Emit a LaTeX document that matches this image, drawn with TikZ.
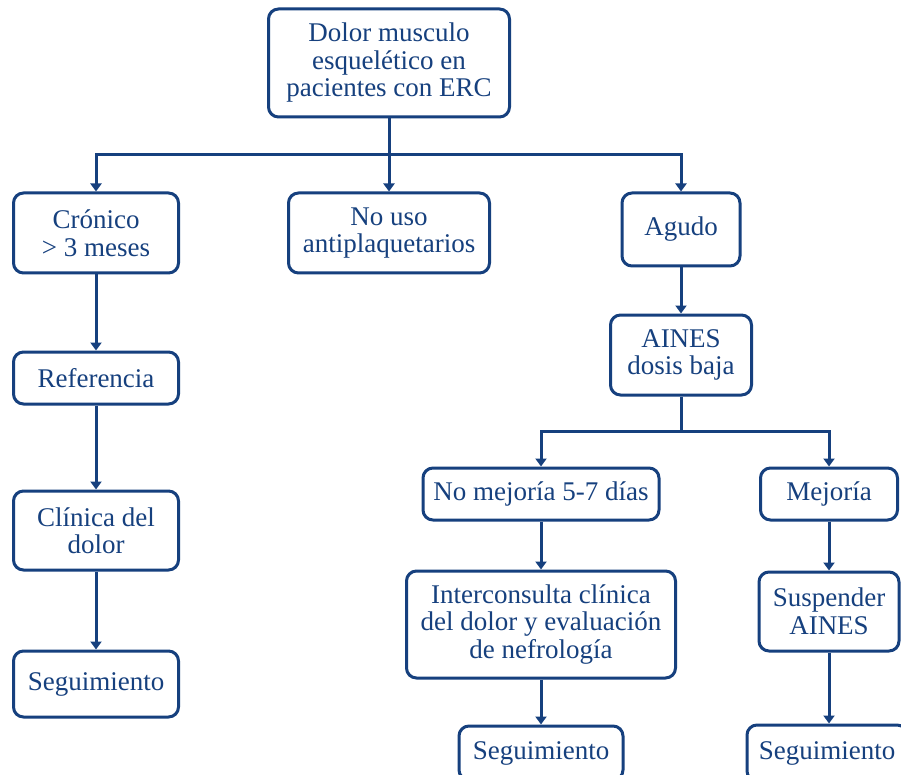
\documentclass[tikz,border=0pt]{standalone}
\usepackage{fontspec}
\setmainfont{Liberation Serif}
\usetikzlibrary{arrows.meta,calc}
\definecolor{navy}{HTML}{16407E}
\begin{document}
\begin{tikzpicture}[x=1pt,y=-1pt,
  box/.style={draw=navy, line width=3pt, rounded corners=10pt, text=navy,
    font=\fontsize{27}{27.5}\selectfont, align=center, inner sep=0pt},
  conn/.style={draw=navy, line width=3pt},
  arr/.style={conn, -{Triangle[length=8pt,width=11pt]}}]
\useasboundingbox (0,0) rectangle (901,775);
\clip (0,0) rectangle (901,775);
\fill[white] (0,0) rectangle (901,775);
% nodes
\node[box, minimum width=241pt, minimum height=108pt] (top) at (389,63) {Dolor musculo\\esquelético en\\pacientes con ERC};
\node[box, minimum width=165pt, minimum height=80pt] (cron) at (96,233) {Crónico\\> 3 meses};
\node[box, minimum width=201pt, minimum height=80pt] (nouso) at (389,233) {No uso\\antiplaquetarios};
\node[box, minimum width=118pt, minimum height=73pt] (agudo) at (681,229.5) {Agudo};
\node[box, minimum width=165pt, minimum height=52pt] (ref) at (96,378) {Referencia};
\node[box, minimum width=165pt, minimum height=79pt] (clin) at (96,530.5) {Clínica del\\dolor};
\node[box, minimum width=165pt, minimum height=66pt] (seg1) at (96,684) {Seguimiento};
\node[box, minimum width=141pt, minimum height=80pt] (aines) at (681,355) {AINES\\dosis baja};
\node[box, minimum width=236pt, minimum height=52pt] (nomej) at (541,494) {No mejoría 5-7 días};
\node[box, minimum width=137pt, minimum height=52pt] (mej) at (829,494) {Mejoría};
\node[box, minimum width=269pt, minimum height=107pt] (inter) at (541,624.5) {Interconsulta clínica\\del dolor y evaluación\\de nefrología};
\node[box, minimum width=140pt, minimum height=79pt] (susp) at (829,611.5) {Suspender\\AINES};
\node[box, minimum width=164pt, minimum height=54pt] (seg2) at (541,753) {Seguimiento};
\node[box, minimum width=160pt, minimum height=56pt] (seg3) at (827,753) {Seguimiento};
% connectors
\coordinate (j1) at (389,155);
\coordinate (j2) at (681,431);
\draw[conn] (top.south) -- (j1);
\draw[arr] (j1) -| (cron.north);
\draw[arr] (j1) -- (nouso.north);
\draw[arr] (j1) -| (agudo.north);
\draw[arr] (agudo.south) -- (aines.north);
\draw[conn] (aines.south) -- (j2);
\draw[arr] (j2) -| (nomej.north);
\draw[arr] (j2) -| (mej.north);
\draw[arr] (nomej.south) -- (inter.north);
\draw[arr] (inter.south) -- (seg2.north);
\draw[arr] (mej.south) -- (susp.north);
\draw[arr] (susp.south) -- (seg3.north -| susp.south);
\draw[arr] (cron.south) -- (ref.north);
\draw[arr] (ref.south) -- (clin.north);
\draw[arr] (clin.south) -- (seg1.north);
\end{tikzpicture}
\end{document}
